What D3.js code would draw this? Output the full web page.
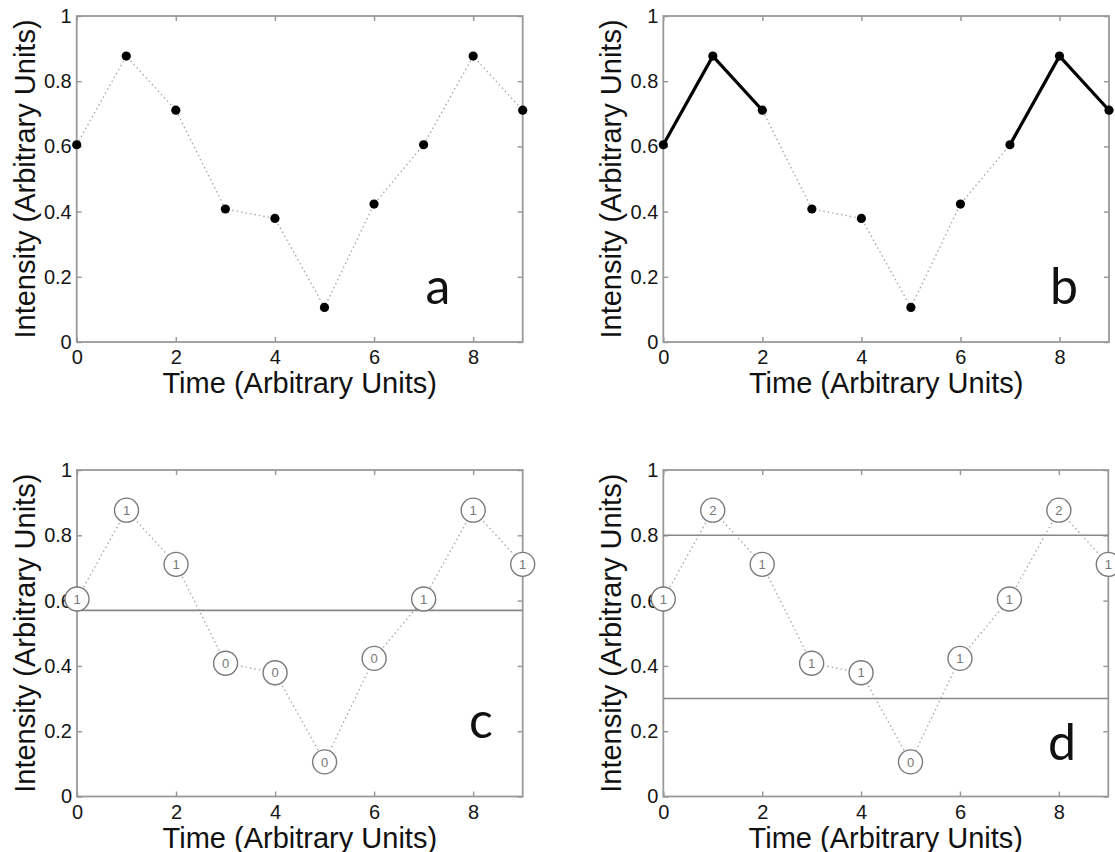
<!DOCTYPE html>
<html>
<head>
<meta charset="utf-8">
<script src="https://cdn.jsdelivr.net/npm/d3@7"></script>
<style>
  body { margin: 0; background: #fff; }
  svg { display: block; }
  .tick text { font-family: "Liberation Sans", Arial, sans-serif; font-size: 20px; fill: #151515; }
  .tick line { stroke: #9a9a9a; stroke-width: 1.5; }
  .title { font-family: "Liberation Sans", Arial, sans-serif; font-size: 29px; fill: #111; }
  .tag { font-family: Lato, "Open Sans", sans-serif; font-size: 50px; fill: #111; }
</style>
</head>
<body>
<svg width="1115" height="852"></svg>
<script>
// data
var times = [0, 1, 2, 3, 4, 5, 6, 7, 8, 9];
var intensity = [0.605, 0.877, 0.711, 0.408, 0.379, 0.106, 0.423, 0.605, 0.877, 0.711];
var boldRuns = [[0, 2], [7, 9]];           // panel b, solid segments (index ranges)
var levelsC = [0.57];
var levelsD = [0.8, 0.3];
var countsC = [1, 1, 1, 0, 0, 0, 0, 1, 1, 1];
var countsD = [1, 2, 1, 1, 1, 0, 1, 1, 2, 1];
var xTicks = [0, 2, 4, 6, 8];
var yTicks = [0, 0.2, 0.4, 0.6, 0.8, 1];

var svg = d3.select("svg");

var panels = [
  { id: "a", left: 76.7, top: 16, w: 446, h: 326, tag: [438, 304], mode: "dots" },
  { id: "b", left: 663.3, top: 16, w: 445.7, h: 326, tag: [1064, 304], mode: "bold" },
  { id: "c", left: 77, top: 470, w: 445.7, h: 326.5, tag: [481, 738], mode: "count", levels: levelsC, counts: countsC },
  { id: "d", left: 663.3, top: 470, w: 445, h: 326.5, tag: [1062, 760], mode: "count", levels: levelsD, counts: countsD }
];

panels.forEach(function (p) {
  var g = svg.append("g").attr("transform", "translate(" + p.left + "," + p.top + ")");
  var x = d3.scaleLinear().domain([0, 9]).range([0, p.w]);
  var y = d3.scaleLinear().domain([0, 1]).range([p.h, 0]);

  // axes, ticks pointing inward
  g.append("g").attr("transform", "translate(0," + p.h + ")")
    .call(d3.axisBottom(x).tickValues(xTicks).tickSizeInner(-5).tickSizeOuter(0).tickPadding(8).tickFormat(d3.format("d")))
    .call(function (a) { a.select(".domain").remove(); });
  g.append("g")
    .call(d3.axisLeft(y).tickValues(yTicks).tickSizeInner(-5).tickSizeOuter(0).tickPadding(5).tickFormat(function (d) { return d3.format("")(d); }))
    .call(function (a) { a.select(".domain").remove(); });
  g.append("g")
    .call(d3.axisTop(x).tickValues(xTicks).tickSizeInner(-5).tickSizeOuter(0).tickFormat(""))
    .call(function (a) { a.select(".domain").remove(); });
  g.append("g").attr("transform", "translate(" + p.w + ",0)")
    .call(d3.axisRight(y).tickValues(yTicks).tickSizeInner(-5).tickSizeOuter(0).tickFormat(""))
    .call(function (a) { a.select(".domain").remove(); });
  g.selectAll(".tick text").attr("font-family", null).attr("font-size", null);

  g.append("rect")
    .attr("width", p.w).attr("height", p.h)
    .attr("fill", "none").attr("stroke", "#9a9a9a").attr("stroke-width", 1.8);

  // axis titles
  g.append("text").attr("class", "title")
    .attr("x", p.w / 2).attr("y", p.h + 51)
    .attr("text-anchor", "middle")
    .text("Time (Arbitrary Units)");
  g.append("text").attr("class", "title")
    .attr("transform", "translate(-42," + (p.h / 2) + ") rotate(-90)")
    .attr("text-anchor", "middle")
    .text("Intensity (Arbitrary Units)");

  var pts = times.map(function (t, i) { return [t, intensity[i]]; });
  var line = d3.line().x(function (d) { return x(d[0]); }).y(function (d) { return y(d[1]); });

  g.append("path").datum(pts)
    .attr("d", line)
    .attr("fill", "none").attr("stroke", "#aaa").attr("stroke-width", 1.4)
    .attr("stroke-dasharray", "1.5,3");

  if (p.mode === "bold") {
    boldRuns.forEach(function (r) {
      g.append("path").datum(pts.slice(r[0], r[1] + 1))
        .attr("d", line)
        .attr("fill", "none").attr("stroke", "#000").attr("stroke-width", 3.2)
        .attr("stroke-linejoin", "round");
    });
  }

  if (p.mode === "count") {
    g.selectAll(".level").data(p.levels).enter().append("line")
      .attr("x1", 0).attr("x2", p.w)
      .attr("y1", function (d) { return y(d); }).attr("y2", function (d) { return y(d); })
      .attr("stroke", "#888").attr("stroke-width", 1.6);

    var node = g.selectAll(".node").data(pts).enter().append("g")
      .attr("transform", function (d) { return "translate(" + x(d[0]) + "," + y(d[1]) + ")"; });
    node.append("circle").attr("r", 12)
      .attr("fill", "#fff").attr("stroke", "#7a7a7a").attr("stroke-width", 1.4);
    node.append("text")
      .attr("text-anchor", "middle").attr("dy", "0.36em")
      .attr("font-family", "Liberation Sans, Arial, sans-serif").attr("font-size", 13)
      .attr("fill", "#777")
      .text(function (d, i) { return p.counts[i]; });
  } else {
    g.selectAll(".dot").data(pts).enter().append("circle")
      .attr("cx", function (d) { return x(d[0]); })
      .attr("cy", function (d) { return y(d[1]); })
      .attr("r", 4.6).attr("fill", "#000");
  }

  svg.append("text").attr("class", "tag")
    .attr("x", p.tag[0]).attr("y", p.tag[1])
    .attr("text-anchor", "middle")
    .text(p.id);
});
</script>
</body>
</html>
